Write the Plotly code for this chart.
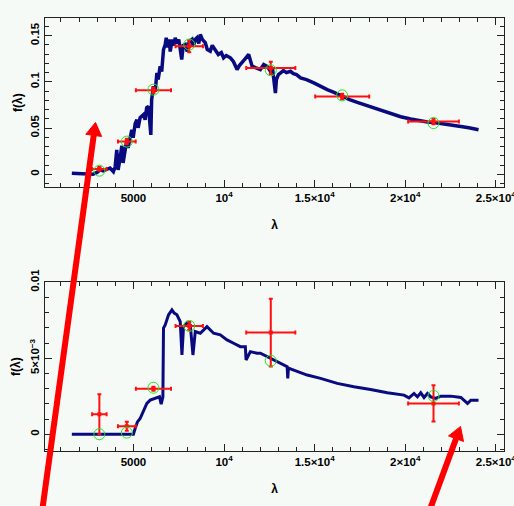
import plotly.graph_objects as go

# ---- model spectrum, upper panel (wavelength in Angstrom, flux) ----
wl_top = [1600, 2050, 2500, 2770, 2990, 3160, 3325, 3530, 3710, 3895, 3990, 4080, 4155, 4265,
          4360, 4430, 4540, 4635, 4705, 4820, 4910, 4985, 5095, 5190, 5260, 5370, 5555, 5645,
          5730, 5830, 5925, 5960, 6005, 6105, 6200, 6295, 6365, 6475, 6560, 6660, 6755, 6810,
          6890, 6975, 7030, 7140, 7250, 7305, 7415, 7500, 7585, 7665, 7750, 7860, 7970, 8080,
          8230, 8300, 8410, 8505, 8605, 8690, 8800, 8965, 9075, 9240, 9350, 9520, 9685, 9850,
          9975, 10125, 10350, 10515, 10720, 10845, 10995, 11175, 11360, 11550, 11730, 12005,
          12190, 12395, 12560, 12670, 12835, 12890, 13000, 13110, 13280, 13445, 13665, 13830,
          14000, 14220, 14550, 14955, 15325, 15695, 16100, 16525, 16930, 17355, 17815, 18270,
          18700, 19195, 19750, 20300, 20745, 21225, 21685, 22145, 22625, 23065, 23510, 24045]
f_top = [0.0011, 0.0009, 0.0003, 0.0000, 0.0020, 0.0047, 0.0036, 0.0054, 0.0068, 0.0028, 0.0079,
         0.0264, 0.0047, 0.0177, 0.0308, 0.0123, 0.0264, 0.0373, 0.0286, 0.0427, 0.0482, 0.0395,
         0.0547, 0.0590, 0.0503, 0.0612, 0.0645, 0.0590, 0.0721, 0.0735, 0.0536, 0.0427, 0.0808,
         0.0952, 0.0895, 0.1098, 0.1025, 0.1170, 0.1112, 0.1351, 0.1405, 0.1478, 0.1373, 0.1460,
         0.1329, 0.1460, 0.1395, 0.1478, 0.1416, 0.1460, 0.1351, 0.1242, 0.1395, 0.1405, 0.1329,
         0.1438, 0.1460, 0.1384, 0.1460, 0.1478, 0.1416, 0.1514, 0.1460, 0.1424, 0.1351, 0.1333,
         0.1395, 0.1351, 0.1297, 0.1318, 0.1261, 0.1286, 0.1261, 0.1221, 0.1134, 0.1177, 0.1207,
         0.1253, 0.1297, 0.1170, 0.1155, 0.1134, 0.1188, 0.1166, 0.1115, 0.1155, 0.0880, 0.1025,
         0.1079, 0.1098, 0.1123, 0.1101, 0.1115, 0.1090, 0.1079, 0.1043, 0.1025, 0.0989, 0.0949,
         0.0916, 0.0884, 0.0843, 0.0808, 0.0778, 0.0748, 0.0717, 0.0688, 0.0655, 0.0623, 0.0598,
         0.0579, 0.0565, 0.0558, 0.0547, 0.0530, 0.0517, 0.0503, 0.0482]

# ---- model spectrum, lower panel ----
wl_bot = [1600, 5000, 5094, 5221, 5370, 5553, 5741, 5924, 6200, 6438, 6532, 6626, 6659, 6753,
          6936, 7124, 7251, 7400, 7583, 7677, 7765, 7953, 8135, 8285, 8412, 8688, 9059, 9424,
          9794, 10165, 10530, 10900, 11177, 11216, 11453, 11824, 12007, 12560, 13113, 13483,
          13516, 13555, 13848, 14589, 15325, 16248, 17166, 18089, 19013, 19931, 20208, 20484,
          20672, 20855, 21037, 21225, 21408, 21684, 21961, 22514, 23067, 23437, 23620, 24045]
f_bot = [0.0, 0.0, 0.000376, 0.000812, 0.001037, 0.001473, 0.002028, 0.002246, 0.002358,
         0.002464, 0.001982, 0.002464, 0.006982, 0.007199, 0.00786, 0.00819, 0.007972, 0.00786,
         0.007417, 0.005218, 0.007087, 0.007312, 0.0072, 0.005218, 0.006757, 0.006651, 0.007087,
         0.006651, 0.006539, 0.006209, 0.005991, 0.005766, 0.005766, 0.004888, 0.005436, 0.00533,
         0.00533, 0.005, 0.00467, 0.004445, 0.003679, 0.004359, 0.004227, 0.003897, 0.003679,
         0.003349, 0.003124, 0.002952, 0.002728, 0.002576, 0.002398, 0.002688, 0.002464,
         0.002728, 0.002424, 0.002688, 0.002464, 0.002358, 0.00251, 0.00251, 0.002424, 0.002028,
         0.002246, 0.002246]

# ---- photometry: band centres and half widths ----
band_wl = [3120, 4635, 6105, 8080, 12580, 16520, 21560]
band_hw = [400, 490, 970, 755, 1355, 1490, 1400]

obs_top = [0.0058, 0.0354, 0.0909, 0.1387, 0.1152, 0.0843, 0.0572]
err_top = [0.0020, 0.0030, 0.0030, 0.0065, 0.0067, 0.0030, 0.0030]
mod_top = [0.0039, 0.0354, 0.0916, 0.1405, 0.1126, 0.0854, 0.0554]

bands_bot = [0, 1, 2, 3, 4, 6]
obs_bot = [0.00132, 0.00053, 0.00299, 0.00713, 0.00669, 0.00203]
err_bot = [0.00132, 0.00029, 0.00013, 0.00025, 0.00223, 0.00119]
mod_bot = [0.0, 0.00011, 0.00306, 0.00713, 0.00484, 0.00253]

x_tickvals = [5000, 10000, 15000, 20000, 25000]
x_ticktext = ["5000", "10<sup>4</sup>", "1.5×10<sup>4</sup>", "2×10<sup>4</sup>", "2.5×10<sup>4</sup>"]
yt_tickvals = [0, 0.05, 0.1, 0.15]
yt_ticktext = ["0", "0.05", "0.1", "0.15"]
yb_tickvals = [0, 0.005, 0.01]
yb_ticktext = ["0", "5×10<sup>−3</sup>", "0.01"]

NAVY = "#0a0a80"
RED = "#ff1010"
GREEN = "#22e622"
BG = "#f5faf6"
AXIS = "#222222"

fig = go.Figure()


def add_panel(xa, ya, wl, fl, bwl, bhw, obs, err, mod, lw):
    fig.add_trace(go.Scatter(x=wl, y=fl, mode="lines", xaxis=xa, yaxis=ya,
                             line=dict(color=NAVY, width=lw), showlegend=False))
    fig.add_trace(go.Scatter(x=bwl, y=obs, mode="markers", xaxis=xa, yaxis=ya,
                             marker=dict(symbol="square", size=4, color=RED),
                             error_x=dict(type="data", array=bhw, color=RED, thickness=2, width=2),
                             error_y=dict(type="data", array=err, color=RED, thickness=2, width=2),
                             showlegend=False))
    fig.add_trace(go.Scatter(x=bwl, y=mod, mode="markers", xaxis=xa, yaxis=ya,
                             marker=dict(symbol="circle-open", size=11, color=GREEN,
                                         line=dict(width=1, color=GREEN)),
                             showlegend=False))


add_panel("x", "y", wl_top, f_top, band_wl, band_hw, obs_top, err_top, mod_top, 3.5)
add_panel("x2", "y2", wl_bot, f_bot, [band_wl[i] for i in bands_bot],
          [band_hw[i] for i in bands_bot], obs_bot, err_bot, mod_bot, 3)

tickfont = dict(family="Liberation Sans", size=11.5, color="black", weight="bold")
titlefont = dict(family="Liberation Sans", size=12, color="black", weight="bold")

xcommon = dict(range=[120, 25450], tickvals=x_tickvals, ticktext=x_ticktext,
               ticks="inside", ticklen=7, tickcolor=AXIS, showline=True, linecolor=AXIS,
               linewidth=1, mirror="allticks", showgrid=False, zeroline=False,
               minor=dict(dtick=1000, tick0=0, ticks="inside", ticklen=4, tickcolor=AXIS),
               tickfont=tickfont, automargin=False, ticklabeloverflow="allow",
               title=dict(text="λ", font=titlefont, standoff=17))
ycommon = dict(ticks="inside", ticklen=7, tickcolor=AXIS, showline=True, linecolor=AXIS,
               linewidth=1, mirror="allticks", showgrid=False, zeroline=False,
               tickangle=-90, tickfont=tickfont, automargin=False, ticklabeloverflow="allow",
               title=dict(text="f(λ)", font=titlefont, standoff=4))

fig.update_layout(
    width=514, height=506,
    margin=dict(l=45, r=10, t=18, b=55),
    paper_bgcolor=BG, plot_bgcolor=BG,
    xaxis=dict(xcommon, anchor="y", domain=[0, 1]),
    yaxis=dict(ycommon, domain=[0.609, 1], range=[-0.0141, 0.1692],
               tickvals=yt_tickvals, ticktext=yt_ticktext,
               minor=dict(dtick=0.01, tick0=0, ticks="inside", ticklen=4, tickcolor=AXIS)),
    xaxis2=dict(xcommon, anchor="y2", domain=[0, 1]),
    yaxis2=dict(ycommon, domain=[0, 0.3896], range=[-0.0011, 0.01],
                tickvals=yb_tickvals, ticktext=yb_ticktext,
                minor=dict(dtick=0.001, tick0=0, ticks="inside", ticklen=4, tickcolor=AXIS)),
)

# red pointer arrows, given as (tail, tip) in figure pixels
PLOT_L, PLOT_T, PLOT_W, PLOT_H = 45, 18, 459, 433


def to_paper(px, py):
    return (px - PLOT_L) / PLOT_W, (PLOT_T + PLOT_H - py) / PLOT_H


def arrow(tail, tip, head_len=13, head_half=8, width=6):
    dx, dy = tip[0] - tail[0], tip[1] - tail[1]
    n = (dx * dx + dy * dy) ** 0.5
    ux, uy = dx / n, dy / n
    bx, by = tip[0] - head_len * ux, tip[1] - head_len * uy
    px, py = -uy, ux
    t0 = to_paper(*tail)
    b0 = to_paper(bx, by)
    fig.add_shape(type="line", xref="paper", yref="paper", x0=t0[0], y0=t0[1],
                  x1=b0[0], y1=b0[1], line=dict(color="red", width=width))
    c1 = to_paper(bx + head_half * px, by + head_half * py)
    c2 = to_paper(bx - head_half * px, by - head_half * py)
    tp = to_paper(*tip)
    fig.add_shape(type="path", xref="paper", yref="paper",
                  path=f"M{c1[0]},{c1[1]} L{tp[0]},{tp[1]} L{c2[0]},{c2[1]} Z",
                  fillcolor="red", line=dict(color="red", width=1))


arrow((42, 512), (95.5, 122.5))
arrow((429, 512), (460.5, 426.5))

fig.write_html("out.html")
